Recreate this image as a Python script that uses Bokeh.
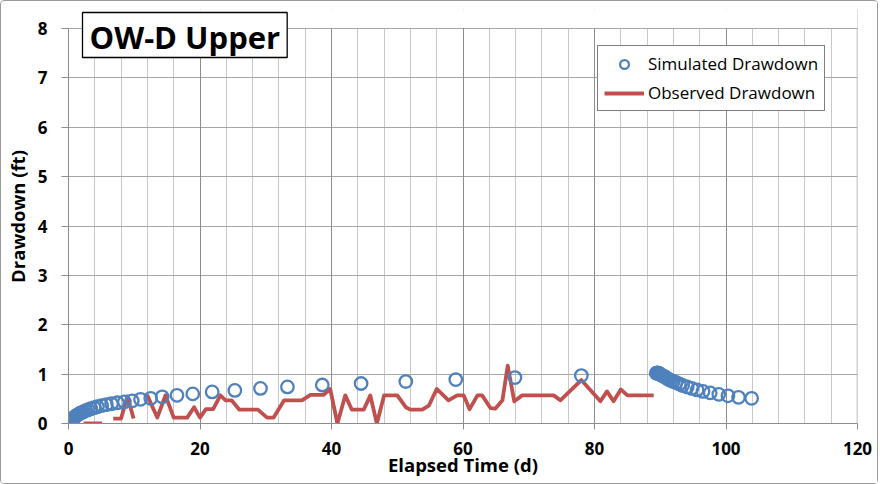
from bokeh.plotting import figure
from bokeh.models import (Range1d, FixedTicker, Grid, Label, Legend, LegendItem,
                          ColumnDataSource, BoxAnnotation, Span)
from bokeh.embed import file_html
from bokeh.resources import INLINE

# ---------------- data ----------------
title_text = "OW-D Upper"
x_label = "Elapsed Time (d)"
y_label = "Drawdown (ft)"
x_ticks = [0, 20, 40, 60, 80, 100, 120]
y_ticks = [0, 1, 2, 3, 4, 5, 6, 7, 8]

# simulated drawdown, pumping period
sim_time = [0.1, 0.15, 0.2, 0.25, 0.3, 0.36, 0.41, 0.47, 0.54, 0.62, 0.70, 0.80,
            0.91, 1.04, 1.19, 1.35, 1.55, 1.76, 2.0, 2.3, 2.6, 3.0, 3.4, 3.9,
            4.4, 5.05, 5.75, 6.55, 7.45, 8.5, 9.7, 10.95, 12.5, 14.25, 16.5,
            18.9, 21.85, 25.3, 29.2, 33.3, 38.6, 44.5, 51.3, 58.9, 67.9, 78.0]
sim_drawdown = [0.0, 0.005, 0.01, 0.02, 0.03, 0.04, 0.05, 0.06, 0.07, 0.085, 0.10, 0.11,
                0.13, 0.14, 0.16, 0.17, 0.19, 0.21, 0.22, 0.24, 0.26, 0.28, 0.30, 0.32,
                0.34, 0.36, 0.38, 0.40, 0.42, 0.44, 0.46, 0.49, 0.51, 0.54, 0.57,
                0.60, 0.64, 0.67, 0.71, 0.74, 0.78, 0.81, 0.85, 0.89, 0.93, 0.97]

# simulated drawdown, recovery period
rec_time = [89.4, 89.45, 89.5, 89.55, 89.6, 89.63, 89.67, 89.71, 89.74, 89.8, 89.86,
            89.91, 89.97, 90.06, 90.18, 90.3, 90.47, 90.65, 90.85, 91.08, 91.35,
            91.65, 92.0, 92.4, 92.9, 93.4, 94.1, 94.8, 95.6, 96.5, 97.6, 98.9,
            100.3, 101.9, 103.9]
rec_drawdown = [1.02, 1.02, 1.02, 1.02, 1.02, 1.02, 1.02, 1.02, 1.01, 1.01, 1.01,
                1.0, 1.0, 0.99, 0.98, 0.97, 0.96, 0.95, 0.93, 0.91, 0.89,
                0.87, 0.85, 0.83, 0.80, 0.77, 0.74, 0.71, 0.68, 0.65, 0.62, 0.59,
                0.56, 0.53, 0.51]

# observed drawdown (nan = gap in record)
nan = float("nan")
obs_time = [2.3, 5.1, nan,
            6.8, 8.0, 8.95, 9.9, nan,
            11.95, 13.5, 14.75, 16.0, 18.05, 19.1, 20.0, 20.9, 22.0, 23.1, 23.9,
            24.8, 26.0, 28.8, 30.2, 31.2, 32.8, 35.5, 36.8, 38.8, 39.8, 40.9,
            42.1, 43.1, 44.9, 45.9, 46.9, 48.0, 50.0, 51.3, 52.0, 53.8, 54.8,
            56.0, 57.8, 59.1, 60.1, 61.0, 62.2, 62.9, 64.2, 64.9, 66.0, 66.8,
            67.8, 69.0, 73.8, 74.8, 78.0, 80.9, 81.9, 82.9, 84.0, 85.0, 89.0]
obs_drawdown = [0.0, 0.0, nan,
                0.1, 0.1, 0.55, 0.1, nan,
                0.58, 0.12, 0.57, 0.12, 0.12, 0.33, 0.12, 0.29, 0.29, 0.57, 0.47,
                0.47, 0.28, 0.28, 0.12, 0.12, 0.47, 0.47, 0.58, 0.58, 0.70, 0.0,
                0.57, 0.28, 0.28, 0.57, 0.0, 0.57, 0.57, 0.33, 0.28, 0.28, 0.36,
                0.70, 0.47, 0.57, 0.57, 0.29, 0.57, 0.57, 0.31, 0.30, 0.47, 1.17,
                0.45, 0.57, 0.57, 0.47, 0.88, 0.45, 0.65, 0.45, 0.69, 0.57, 0.57]

# ---------------- styling ----------------
FONT = "Open Sans"
BLUE = "#4F81BD"
RED = "#C0504D"
GRID_MINOR = "#c8c8c8"
GRID_H = "#a6a6a6"
GRID_MAJOR = "#8c8c8c"

PLOT_H = 395          # pixel height of the 0..8 band
EXTRA_TOP = 19        # frame extends above 8 so the title box is not clipped
Y_TOP = y_ticks[-1] * (PLOT_H + EXTRA_TOP) / PLOT_H

p = figure(frame_width=789, frame_height=PLOT_H + EXTRA_TOP,
           min_border_left=67, min_border_right=20,
           min_border_top=8, min_border_bottom=60,
           x_range=Range1d(0, 120), y_range=Range1d(0, Y_TOP),
           output_backend="svg", toolbar_location=None,
           background_fill_color="white", border_fill_color="white")
p.styles = {"border": "1px solid #9a9a9a", "border-radius": "4px"}
p.outline_line_color = None

# grids
p.xgrid.ticker = FixedTicker(ticks=list(range(0, 121, 4)))
p.xgrid.grid_line_color = GRID_MINOR
p.ygrid.ticker = FixedTicker(ticks=y_ticks)
p.ygrid.grid_line_color = GRID_H
major_grid = Grid(dimension=0, ticker=FixedTicker(ticks=x_ticks),
                  grid_line_color=GRID_MAJOR, grid_line_width=1)
p.add_layout(major_grid)
p.add_layout(Span(location=x_ticks[-1], dimension="height", line_color=GRID_H,
                  line_width=1.5, level="underlay"))
# blank strip above the 8 ft line (frame head-room for the title box)
p.add_layout(BoxAnnotation(bottom=y_ticks[-1] + 0.012, fill_color="white",
                           fill_alpha=1, line_color=None, level="underlay"))

# axes
for ax in (p.xaxis[0], p.yaxis[0]):
    ax.axis_line_color = GRID_MAJOR
    ax.major_tick_line_color = GRID_MAJOR
    ax.minor_tick_line_color = None
    ax.major_tick_in = 0
    ax.major_label_text_font = FONT
    ax.major_label_text_font_style = "bold"
    ax.major_label_text_font_size = "17px"
    ax.major_label_text_color = "black"
    ax.axis_label_text_font = FONT
    ax.axis_label_text_font_style = "bold"
    ax.axis_label_text_font_size = "18.5px"
    ax.axis_label_text_color = "black"

p.xaxis.ticker = FixedTicker(ticks=x_ticks)
p.yaxis.ticker = FixedTicker(ticks=y_ticks)
p.yaxis.bounds = (0, y_ticks[-1])
p.xaxis.major_tick_out = 6
p.yaxis.major_tick_out = 7
p.xaxis.major_label_standoff = 12
p.yaxis.major_label_standoff = 14
p.xaxis.axis_label = x_label
p.yaxis.axis_label = y_label
p.xaxis.axis_label_standoff = -6
p.yaxis.axis_label_standoff = 5

# data renderers
obs_src = ColumnDataSource(dict(x=obs_time, y=obs_drawdown))
obs_r = p.line("x", "y", source=obs_src, line_color=RED, line_width=3.8,
               line_join="round")

sim_src = ColumnDataSource(dict(x=sim_time + rec_time, y=sim_drawdown + rec_drawdown))
sim_r = p.scatter("x", "y", source=sim_src, marker="circle", size=12.5,
                  fill_color=None, line_color=BLUE, line_width=2.3)

legend = Legend(items=[LegendItem(label="Simulated Drawdown", renderers=[sim_r]),
                       LegendItem(label="Observed Drawdown", renderers=[obs_r])],
                location=(529, 312))
legend.border_line_color = "black"
legend.border_line_width = 1
legend.background_fill_color = "white"
legend.background_fill_alpha = 1
legend.label_text_font = FONT
legend.label_text_font_size = "17px"
legend.label_text_color = "black"
legend.glyph_width = 40
legend.glyph_height = 22
legend.label_height = 22
legend.label_standoff = 4
legend.spacing = 6
legend.padding = 6
legend.margin = 0
p.add_layout(legend)

title = Label(x=2.13, y=y_ticks[-1] + (28 - 12) / (PLOT_H / y_ticks[-1]),
              x_units="data", y_units="data", text=title_text,
              text_font=FONT, text_font_style="bold", text_font_size="31px",
              text_color="black", anchor="top_left",
              border_line_color="black", border_line_width=1.3,
              background_fill_color="white",
              padding=dict(left=7, right=7, top=3, bottom=0))
p.add_layout(title)

open("out.html", "w").write(file_html(p, INLINE))
